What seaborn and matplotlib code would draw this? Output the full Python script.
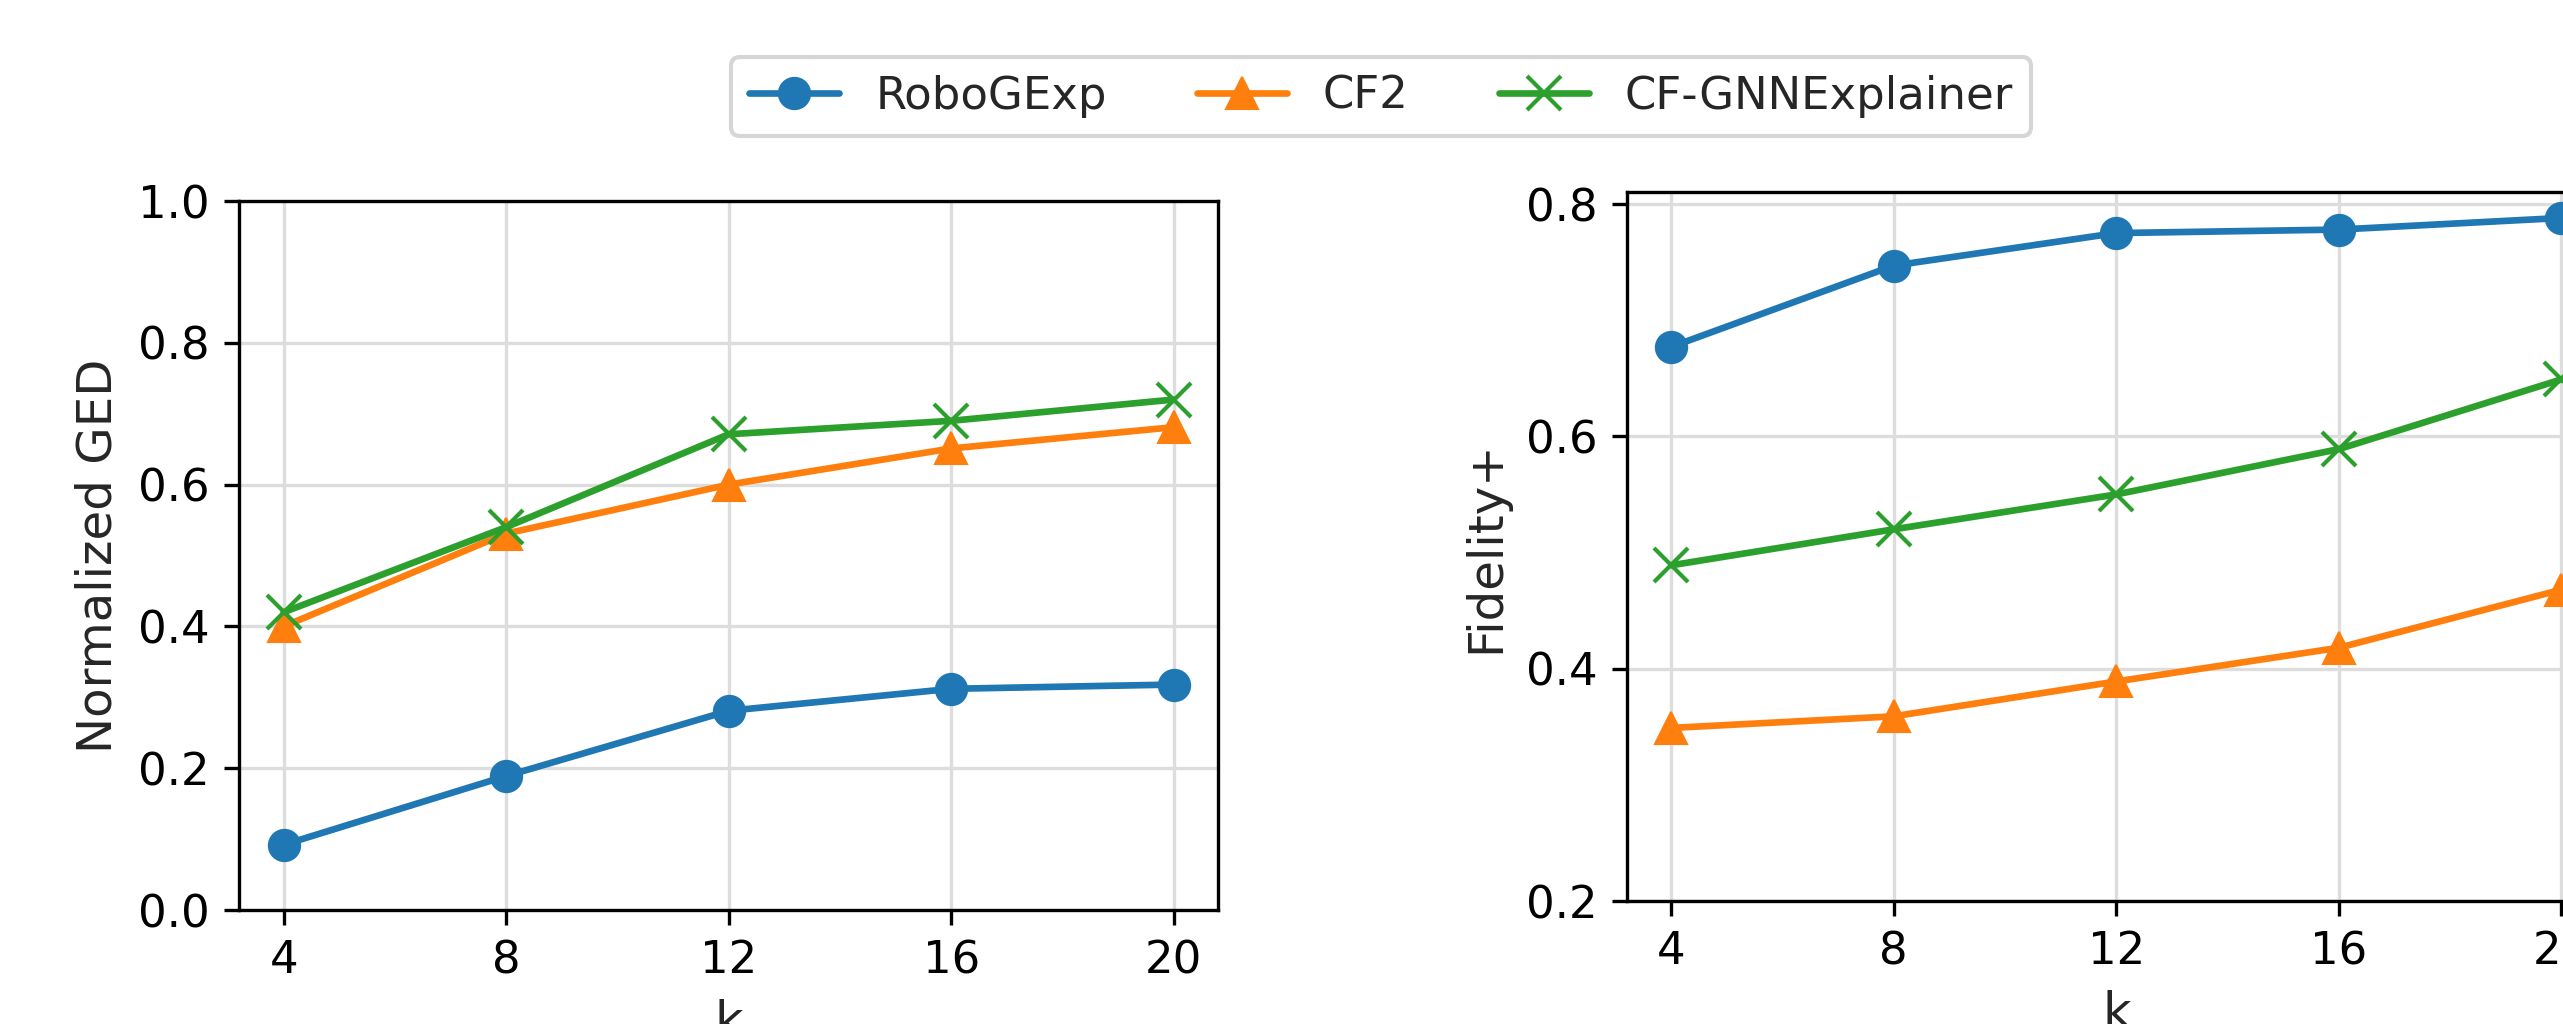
import matplotlib
matplotlib.use("Agg")
import matplotlib.pyplot as plt
import seaborn as sns
import numpy as np
import pandas as pd

# ---- data ----
k_values = [4, 8, 12, 16, 20]
methods = ["RoboGExp", "CF2", "CF-GNNExplainer"]

ged_robogexp = [0.092, 0.189, 0.281, 0.312, 0.318]
ged_cf2 = [0.400, 0.531, 0.600, 0.651, 0.681]
ged_cfgnn = [0.420, 0.540, 0.671, 0.690, 0.720]

fid_robogexp = [0.677, 0.747, 0.775, 0.778, 0.788]
fid_cf2 = [0.349, 0.359, 0.389, 0.418, 0.468]
fid_cfgnn = [0.489, 0.520, 0.550, 0.589, 0.649]

ged_ticks = [0.0, 0.2, 0.4, 0.6, 0.8, 1.0]
fid_ticks = [0.2, 0.4, 0.6, 0.8]

colors = {"RoboGExp": "#1f77b4", "CF2": "#ff7f0e", "CF-GNNExplainer": "#2ca02c"}
markers = {"RoboGExp": "o", "CF2": "^", "CF-GNNExplainer": "x"}

sns.set_style("white")
plt.rcParams["font.family"] = ["DejaVu Sans"]

fig = plt.figure(figsize=(2563 / 300, 1024 / 300), dpi=300)
ax1 = fig.add_axes([0.0933, 0.1113, 0.382, 0.6924])
ax2 = fig.add_axes([0.6347, 0.1201, 0.382, 0.692])

def draw(ax, series, ylabel, ylim, yticks):
    for name, vals in zip(methods, series):
        c = colors[name]
        m = markers[name]
        sns.lineplot(x=k_values, y=vals, ax=ax, color=c, marker=m,
                     markersize=7.5 if m != "x" else 8, linewidth=1.6, label=name,
                     markeredgecolor=c, markeredgewidth=1.0 if m == "x" else 0.5)
    ax.set_xticks(k_values)
    ax.set_xlim(3.2, 20.8)
    ax.set_ylim(*ylim)
    ax.set_yticks(yticks)
    ax.set_yticklabels([f"{t:.1f}" for t in yticks])
    ax.grid(True, color="#dddddd", linewidth=0.8)
    ax.set_axisbelow(True)
    ax.set_xlabel("k", fontsize=11.8)
    ax.set_ylabel(ylabel, fontsize=11.6)
    ax.tick_params(axis="both", labelsize=10.8, direction="out", length=3.5,
                   width=0.8, left=True, bottom=True, colors="black")
    for s in ax.spines.values():
        s.set_visible(True)
        s.set_color("black")
        s.set_linewidth(0.8)
    ax.get_legend().remove()

draw(ax1, [ged_robogexp, ged_cf2, ged_cfgnn], "Normalized GED", (0.0, 1.0), ged_ticks)
draw(ax2, [fid_robogexp, fid_cf2, fid_cfgnn], "Fidelity+", (0.2, 0.81), fid_ticks)

handles, labels = ax1.get_legend_handles_labels()
fig.legend(handles, labels, loc="center", bbox_to_anchor=(0.5389, 0.9058),
           ncol=3, fontsize=10.8, frameon=True, fancybox=True,
           edgecolor="#cccccc", columnspacing=2.0)

fig.savefig("out.png", dpi=300)
